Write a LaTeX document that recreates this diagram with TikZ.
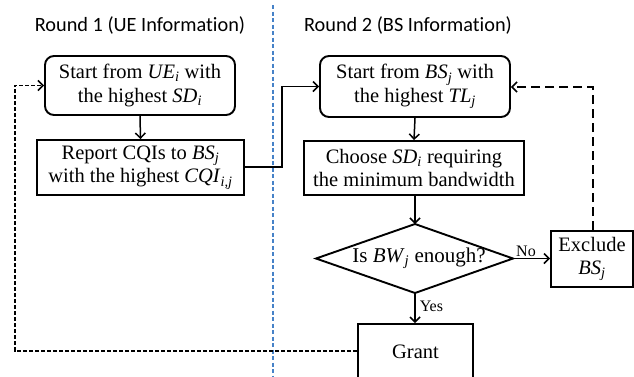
\documentclass[tikz,border=0pt]{standalone}
\usepackage{fontspec}
\setmainfont{Liberation Serif}
\newfontfamily\titlefont[Ligatures=NoCommon]{Carlito}
\usetikzlibrary{arrows.meta}
\newcommand{\mv}[2]{\textit{#1}\textsubscript{\textit{#2}}}
\begin{document}
\begin{tikzpicture}[x=1pt,y=-1pt,
  box/.style={draw, line width=1.9pt, align=center, inner sep=0pt,
    font=\fontsize{20.5}{23.5}\selectfont},
  rbox/.style={box, rounded corners=9pt},
  flow/.style={line width=1.5pt, -{Straight Barb[length=5pt,width=10pt,line width=1.5pt]}},
  shortdash/.style={flow, dash pattern=on 4pt off 2pt},
  longdash/.style={flow, dash pattern=on 9pt off 5pt},
  ttl/.style={font=\titlefont\fontsize{20.3}{22}\selectfont, inner sep=0pt},
  lbl/.style={font=\fontsize{16}{18}\selectfont, inner sep=0pt}]
\useasboundingbox (0,0) rectangle (634,376);
\clip (0,0) rectangle (634,376);
% titles
\node[ttl] (t1) at (140,25) {Round 1 (UE Information)};
\node[ttl] (t2) at (408,25) {Round 2 (BS Information)};
% divider
\coordinate (vtop) at (273,5);
\coordinate (vbot) at (273,376);
\draw[color={rgb,255:red,70;green,130;blue,200}, line width=1.3pt, dash pattern=on 4pt off 2.5pt] (vtop) -- (vbot);
% nodes
\node[rbox, minimum width=190pt, minimum height=59pt] (A) at (140,85.5)
  {Start from \mv{UE}{i} with\\the highest \mv{SD}{i}};
\node[box, minimum width=207pt, minimum height=55pt] (B) at (140.5,167.5)
  {Report CQIs to \mv{BS}{j}\\with the highest \mv{CQI}{i,j}};
\node[rbox, minimum width=190pt, minimum height=61pt] (C) at (415,86.5)
  {Start from \mv{BS}{j} with\\the highest \mv{TL}{j}};
\node[box, minimum width=220pt, minimum height=54pt] (D) at (414,168)
  {Choose \mv{SD}{i} requiring\\the minimum bandwidth};
\coordinate (dT) at (415,224);
\coordinate (dR) at (513,258.5);
\coordinate (dB) at (415,293);
\coordinate (dL) at (316,258.5);
\draw[line width=1.9pt, line join=miter] (dT) -- (dR) -- (dB) -- (dL) -- cycle;
\node[font=\fontsize{21}{24}\selectfont, inner sep=0pt] (Q) at (419,258.5) {Is \mv{BW}{j} enough?};
\node[box, minimum width=82pt, minimum height=56pt] (E) at (592,259)
  {Exclude\\\mv{BS}{j}};
\node[box, minimum width=115pt, minimum height=56pt] (G) at (415.5,352) {Grant};
% connectors
\draw[flow] (A.south) -- (B.north);
\coordinate (bx) at (282,167);
\draw[flow] (B.east |- bx) -- (bx) -- (bx |- C.west) -- (C.west);
\draw[flow] (C.south) -- (D.north);
\draw[flow] (D.south -| dT) -- (dT);
\draw[flow] (dR) -- (E.west |- dR) node[lbl, pos=0.35, above=1pt] {No};
\draw[flow] (dB) -- (G.north -| dB) node[lbl, pos=0.45, right=4pt] {Yes};
\coordinate (er) at (593,87);
\draw[longdash] (E.north -| er) -- (er) -- (C.east |- er);
\coordinate (gl) at (15,351);
\draw[shortdash] (G.west |- gl) -- (gl) -- (gl |- A.west) -- (A.west);
\end{tikzpicture}
\end{document}
